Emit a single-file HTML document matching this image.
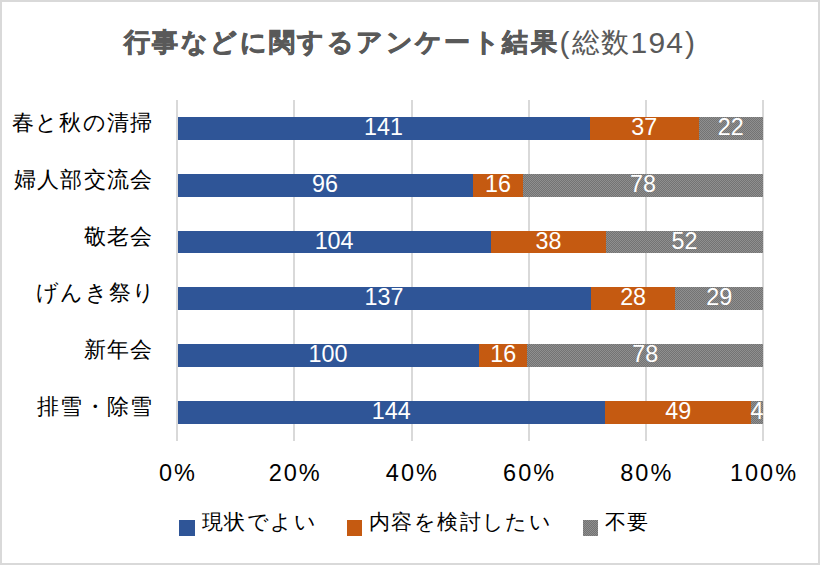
<!DOCTYPE html>
<html><head><meta charset="utf-8"><style>
html,body{margin:0;padding:0;}
body{width:820px;height:565px;position:relative;overflow:hidden;background:#fff;font-family:"Liberation Sans",sans-serif;}
.frame{position:absolute;left:0;top:0;width:820px;height:565px;box-sizing:border-box;border:2px solid #d9d9d9;}
.g{position:absolute;top:100px;height:341px;width:2px;background:#d9d9d9;}
.bar{position:absolute;}
.b{background:#2f5597;}
.o{background:#c55a11;}
.y{background-color:#737373;background-image:linear-gradient(45deg,#8f8f8f 25%,transparent 25%,transparent 75%,#8f8f8f 75%),linear-gradient(45deg,#8f8f8f 25%,transparent 25%,transparent 75%,#8f8f8f 75%);background-size:2px 2px;background-position:0 0,1px 1px;}
.dl{position:absolute;transform:translate(-50%,-50%);color:#fff;font-size:23.3px;line-height:23.3px;white-space:nowrap;}
.cl{position:absolute;right:666.8px;transform:translateY(-50%);color:#000;font-size:22px;line-height:22px;letter-spacing:1.2px;white-space:nowrap;}
.al{position:absolute;top:473.5px;transform:translate(-50%,-50%);color:#000;font-size:23.5px;line-height:23.5px;letter-spacing:2px;padding-left:2px;white-space:nowrap;}
.title{position:absolute;left:124px;top:29px;color:#595959;font-size:26px;line-height:26px;letter-spacing:2.4px;white-space:nowrap;}
.tp{position:absolute;letter-spacing:1.2px;top:28px;color:#595959;font-size:30px;line-height:30px;white-space:nowrap;}
.tz{position:absolute;top:28.5px;color:#595959;font-size:27.5px;line-height:27.5px;letter-spacing:0.8px;white-space:nowrap;}
.title b{font-weight:bold;-webkit-text-stroke:0.7px #595959;}
.leg{position:absolute;top:522.5px;font-size:21.3px;line-height:21.3px;letter-spacing:1.4px;color:#000;white-space:nowrap;transform:translateY(-50%);}
.sq{position:absolute;top:520px;width:16px;height:16px;}
</style></head><body>
<div class="frame"></div>
<div class="title"><b>行事などに関するアンケート結果</b></div><div class="tp" style="left:559.5px">(</div><div class="tz" style="left:572px">総数</div><div class="tp" style="left:630.5px">194</div><div class="tp" style="left:685px">)</div>
<div class="g" style="left:176px"></div>
<div class="g" style="left:293px"></div>
<div class="g" style="left:411px"></div>
<div class="g" style="left:528px"></div>
<div class="g" style="left:645px"></div>
<div class="g" style="left:762px"></div>
<div class="cl" style="top:122.92px;margin-right:0px">春と秋の清掃</div>
<div class="bar b" style="left:178.00px;top:117.05px;width:412.13px;height:22.73px"></div>
<div class="dl" style="left:383.56px;top:127.92px">141</div>
<div class="bar o" style="left:590.13px;top:117.05px;width:108.41px;height:22.73px"></div>
<div class="dl" style="left:644.34px;top:127.92px">37</div>
<div class="bar y" style="left:698.54px;top:117.05px;width:64.46px;height:22.73px"></div>
<div class="dl" style="left:730.77px;top:127.92px">22</div>
<div class="cl" style="top:179.75px;margin-right:0px">婦人部交流会</div>
<div class="bar b" style="left:178.00px;top:173.88px;width:295.08px;height:22.73px"></div>
<div class="dl" style="left:325.04px;top:184.75px">96</div>
<div class="bar o" style="left:473.08px;top:173.88px;width:49.92px;height:22.73px"></div>
<div class="dl" style="left:498.04px;top:184.75px">16</div>
<div class="bar y" style="left:523.00px;top:173.88px;width:240.00px;height:22.73px"></div>
<div class="dl" style="left:643.00px;top:184.75px">78</div>
<div class="cl" style="top:236.58px;margin-right:0px">敬老会</div>
<div class="bar b" style="left:178.00px;top:230.72px;width:313.14px;height:22.73px"></div>
<div class="dl" style="left:334.07px;top:241.58px">104</div>
<div class="bar o" style="left:491.14px;top:230.72px;width:114.78px;height:22.73px"></div>
<div class="dl" style="left:548.54px;top:241.58px">38</div>
<div class="bar y" style="left:605.93px;top:230.72px;width:157.07px;height:22.73px"></div>
<div class="dl" style="left:684.46px;top:241.58px">52</div>
<div class="cl" style="top:293.42px;margin-right:-3px">げんき祭り</div>
<div class="bar b" style="left:178.00px;top:287.00px;width:412.82px;height:23.00px"></div>
<div class="dl" style="left:383.91px;top:298.42px">137</div>
<div class="bar o" style="left:590.82px;top:287.00px;width:84.58px;height:23.00px"></div>
<div class="dl" style="left:633.11px;top:298.42px">28</div>
<div class="bar y" style="left:675.40px;top:287.00px;width:87.60px;height:23.00px"></div>
<div class="dl" style="left:719.20px;top:298.42px">29</div>
<div class="cl" style="top:350.25px;margin-right:0px">新年会</div>
<div class="bar b" style="left:178.00px;top:344.38px;width:301.06px;height:22.73px"></div>
<div class="dl" style="left:328.03px;top:355.25px">100</div>
<div class="bar o" style="left:479.06px;top:344.38px;width:48.33px;height:22.73px"></div>
<div class="dl" style="left:503.23px;top:355.25px">16</div>
<div class="bar y" style="left:527.39px;top:344.38px;width:235.61px;height:22.73px"></div>
<div class="dl" style="left:645.20px;top:355.25px">78</div>
<div class="cl" style="top:407.08px;margin-right:0px">排雪・除雪</div>
<div class="bar b" style="left:178.00px;top:401.22px;width:427.35px;height:22.73px"></div>
<div class="dl" style="left:391.17px;top:412.08px">144</div>
<div class="bar o" style="left:605.35px;top:401.22px;width:145.76px;height:22.73px"></div>
<div class="dl" style="left:678.22px;top:412.08px">49</div>
<div class="bar y" style="left:751.10px;top:401.22px;width:11.90px;height:22.73px"></div>
<div class="dl" style="left:757.05px;top:412.08px">4</div>
<div class="al" style="left:177.00px">0%</div>
<div class="al" style="left:294.20px">20%</div>
<div class="al" style="left:411.40px">40%</div>
<div class="al" style="left:528.60px">60%</div>
<div class="al" style="left:645.80px">80%</div>
<div class="al" style="left:763.00px">100%</div>
<div class="sq b" style="left:179px"></div><div class="leg" style="left:202px">現状でよい</div>
<div class="sq o" style="left:347px;width:15px"></div><div class="leg" style="left:369px">内容を検討したい</div>
<div class="sq y" style="left:583px;width:15px"></div><div class="leg" style="left:605px">不要</div>
</body></html>
